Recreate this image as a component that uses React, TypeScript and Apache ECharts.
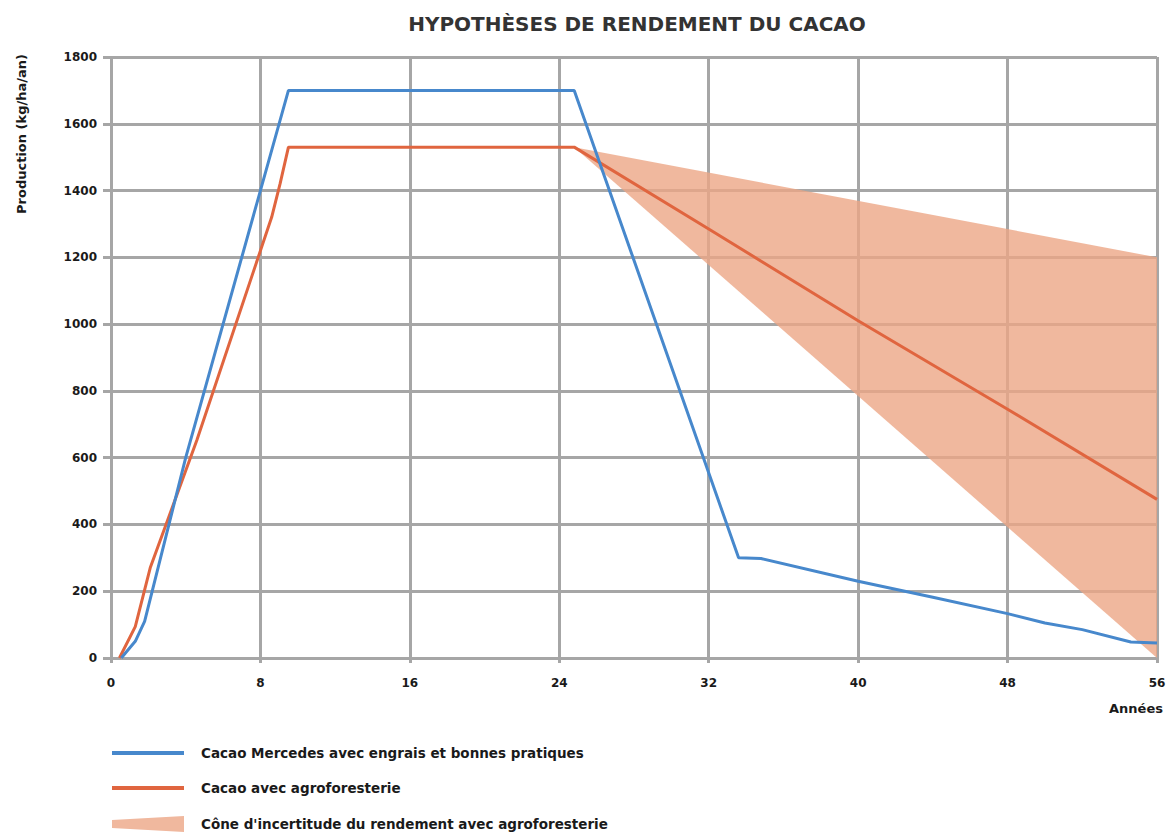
import React, { useEffect, useRef } from "react";
import * as echarts from "echarts";

// ---- Data ----
const xTicks = [0, 8, 16, 24, 32, 40, 48, 56];
const yTicks = [0, 200, 400, 600, 800, 1000, 1200, 1400, 1600, 1800];

const mercedesX = [0.55, 1.3, 1.8, 4, 9.5, 24.8, 33.6, 34.8, 40, 44, 48, 50, 52, 54.6, 56];
const mercedesY = [0, 50, 110, 600, 1700, 1700, 300, 298, 230, 182, 133, 105, 85, 48, 45];

const agroX = [0.45, 1.3, 2.1, 4.6, 8.6, 9.05, 9.5, 24.8, 32, 40, 48, 56];
const agroY = [0, 94, 270, 653, 1320, 1420, 1530, 1530, 1285, 1010, 745, 475];

const coneX = [24.8, 56];
const coneLow = [1530, 0];
const coneHigh = [1530, 1200];

const TITLE = "HYPOTHÈSES DE RENDEMENT DU CACAO";
const Y_NAME = "Production (kg/ha/an)";
const X_NAME = "Années";
const NAME_MERCEDES = "Cacao Mercedes avec engrais et bonnes pratiques";
const NAME_AGRO = "Cacao avec agroforesterie";
const NAME_CONE = "Cône d'incertitude du rendement avec agroforesterie";

const BLUE = "#4788cc";
const ORANGE = "#e0653f";
const CONE = "rgba(236,166,134,0.8)";
const CONE_SOLID = "#f0b89e";
const GRID = "#a6a6a6";
const FONT = "DejaVu Sans";
const TEXT = "#1a1a1a";

export default function App() {
  const ref = useRef<HTMLDivElement>(null);

  useEffect(() => {
    if (!ref.current) return;
    const chart = echarts.init(ref.current, undefined, { renderer: "svg" });

    const zip = (xs: number[], ys: number[]) => xs.map((x, i) => [x, ys[i]]);

    chart.setOption({
      animation: false,
      backgroundColor: "#ffffff",
      textStyle: { fontFamily: FONT },
      title: {
        text: TITLE,
        left: 632,
        textAlign: "center",
        top: 9,
        textStyle: {
          fontFamily: FONT,
          fontSize: 20,
          fontWeight: "bold",
          color: "#333333",
        },
      },
      grid: { left: 111, right: 13, top: 57, bottom: 180, containLabel: false },
      legend: {
        orient: "vertical",
        left: 110,
        top: 746,
        height: 92,
        padding: 0,
        itemWidth: 72,
        itemHeight: 16,
        itemGap: 21,
        selectedMode: false,
        textStyle: {
          fontFamily: FONT,
          fontSize: 13.5,
          fontWeight: "bold",
          color: TEXT,
          padding: [0, 0, 0, 12],
        },
        data: [
          {
            name: NAME_MERCEDES,
            itemStyle: { opacity: 0 },
            lineStyle: { width: 4, color: BLUE },
          },
          {
            name: NAME_AGRO,
            itemStyle: { opacity: 0 },
            lineStyle: { width: 4, color: ORANGE },
          },
          {
            name: NAME_CONE,
            icon: "path://M0,4 L72,0 L72,16 L0,12 Z",
            itemStyle: { color: CONE_SOLID, opacity: 1 },
          },
        ],
      },
      xAxis: {
        type: "value",
        min: xTicks[0],
        max: xTicks[xTicks.length - 1],
        interval: xTicks[1] - xTicks[0],
        axisLine: { show: false },
        axisTick: { show: true, length: 5, lineStyle: { color: GRID, width: 3 } },
        axisLabel: {
          margin: 19,
          fontFamily: FONT,
          fontSize: 12,
          fontWeight: "bold",
          color: TEXT,
          formatter: (v: number) => String(v),
        },
        splitLine: { show: true, lineStyle: { color: GRID, width: 3 } },
      },
      yAxis: {
        type: "value",
        min: yTicks[0],
        max: yTicks[yTicks.length - 1],
        interval: yTicks[1] - yTicks[0],
        axisLine: { show: false },
        axisTick: { show: true, length: 8, lineStyle: { color: GRID, width: 3 } },
        axisLabel: {
          margin: 14,
          fontFamily: FONT,
          fontSize: 12,
          fontWeight: "bold",
          color: TEXT,
          formatter: (v: number) => String(v),
        },
        splitLine: { show: true, lineStyle: { color: GRID, width: 3 } },
      },
      graphic: [
        {
          type: "text",
          x: 21,
          y: 134,
          rotation: Math.PI / 2,
          style: {
            text: Y_NAME,
            fontFamily: FONT,
            fontSize: 13,
            fontWeight: "bold",
            fill: TEXT,
            align: "center",
            verticalAlign: "middle",
          },
        },
        {
          type: "text",
          x: 1163,
          y: 708,
          style: {
            text: X_NAME,
            fontFamily: FONT,
            fontSize: 13,
            fontWeight: "bold",
            fill: TEXT,
            align: "right",
            verticalAlign: "middle",
          },
        },
      ],
      series: [
        {
          name: NAME_CONE,
          type: "custom",
          data: coneX.map((x, i) => [x, coneLow[i], coneHigh[i]]),
          encode: { x: 0, y: [1, 2] },
          itemStyle: { color: CONE_SOLID },
          silent: true,
          z: 1,
          renderItem: (params: any, api: any) => {
            if (params.dataIndex !== 0) return { type: "group", children: [] };
            const upper = coneX.map((x, i) => api.coord([x, coneHigh[i]]));
            const lower = coneX.map((x, i) => api.coord([x, coneLow[i]])).reverse();
            return {
              type: "polygon",
              shape: { points: upper.concat(lower) },
              style: { fill: CONE },
              silent: true,
            };
          },
        },
        {
          name: NAME_AGRO,
          type: "line",
          data: zip(agroX, agroY),
          symbol: "none",
          color: ORANGE,
          lineStyle: { color: ORANGE, width: 3 },
          z: 3,
        },
        {
          name: NAME_MERCEDES,
          type: "line",
          data: zip(mercedesX, mercedesY),
          symbol: "none",
          color: BLUE,
          lineStyle: { color: BLUE, width: 3 },
          z: 4,
        },
      ],
    });

    return () => chart.dispose();
  }, []);

  return (
    <div
      ref={ref}
      style={{ position: "absolute", left: 0, top: 0, width: 1170, height: 838 }}
    />
  );
}
